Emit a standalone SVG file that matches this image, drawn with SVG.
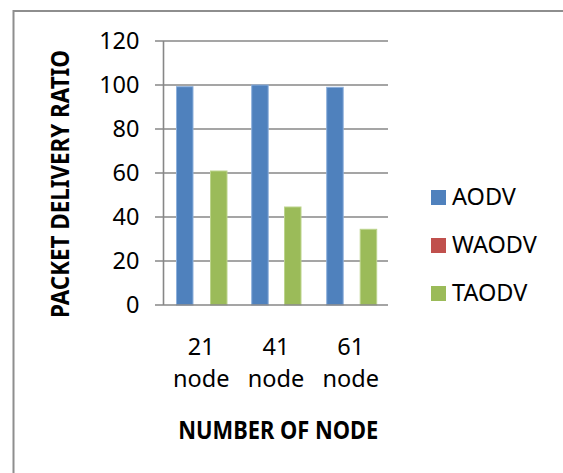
<svg xmlns="http://www.w3.org/2000/svg" width="563" height="473" viewBox="0 0 563 473">
<style>
.grid{stroke:#878787;stroke-width:1.6;fill:none}
.tick{font-family:"Noto Sans","Liberation Sans",sans-serif;font-size:23.5px;fill:#000}
.ttl{font-family:"Noto Sans","Liberation Sans",sans-serif;font-size:25.5px;font-weight:bold;fill:#000}
.b{fill:#4F81BD;stroke:#8DB0DC;stroke-width:1}
.r{fill:#C0504D}
.g{fill:#9BBB59;stroke:#BCD48C;stroke-width:1}
</style>
<rect x="0" y="0" width="563" height="473" fill="#fff"/>
<rect id="frame" x="13.5" y="11" width="600" height="500" fill="#fff" stroke="#8e8e8e" stroke-width="2"/>
<g id="gridlines">
<line class="grid" x1="155" y1="41" x2="388" y2="41"/>
<line class="grid" x1="155" y1="85" x2="388" y2="85"/>
<line class="grid" x1="155" y1="129" x2="388" y2="129"/>
<line class="grid" x1="155" y1="173" x2="388" y2="173"/>
<line class="grid" x1="155" y1="217" x2="388" y2="217"/>
<line class="grid" x1="155" y1="261" x2="388" y2="261"/>
<line class="grid" x1="163.5" y1="41" x2="163.5" y2="305"/>
</g>
<g id="y-labels" class="tick" text-anchor="end">
<text x="139.5" y="49">120</text>
<text x="139.5" y="93">100</text>
<text x="139.5" y="137">80</text>
<text x="139.5" y="181">60</text>
<text x="139.5" y="225">40</text>
<text x="139.5" y="269">20</text>
<text x="139.5" y="313">0</text>
</g>
<g id="bars">
<rect class="b" x="176.5" y="86.7" width="16.5" height="218.3"/>
<rect class="g" x="210.5" y="171" width="16.5" height="134"/>
<rect class="b" x="251.7" y="85" width="16.5" height="220"/>
<rect class="g" x="284.5" y="207" width="16.5" height="98"/>
<rect class="b" x="326.7" y="87.3" width="16.5" height="217.7"/>
<rect class="g" x="360.2" y="229.3" width="16.5" height="75.7"/>
</g>
<line id="x-axis" class="grid" x1="155" y1="305" x2="388" y2="305"/>
<g id="x-labels" class="tick" text-anchor="middle">
<text x="201.3" y="355">21</text>
<text x="201.3" y="387">node</text>
<text x="276" y="355">41</text>
<text x="276" y="387">node</text>
<text x="350.7" y="355">61</text>
<text x="350.7" y="387">node</text>
</g>
<text id="x-title" class="ttl" x="278.3" y="438.5" text-anchor="middle" textLength="200" lengthAdjust="spacingAndGlyphs">NUMBER OF NODE</text>
<text id="y-title" class="ttl" transform="translate(68.5,184) rotate(-90)" x="0" y="0" text-anchor="middle" textLength="268" lengthAdjust="spacingAndGlyphs">PACKET DELIVERY RATIO</text>
<g id="legend">
<g id="legend-aodv"><rect x="431" y="190" width="15" height="15" fill="#4F81BD"/><text class="tick" x="452" y="205">AODV</text></g>
<g id="legend-waodv"><rect class="r" x="431" y="238" width="15" height="15"/><text class="tick" x="452" y="253">WAODV</text></g>
<g id="legend-taodv"><rect x="431" y="286" width="15" height="15" fill="#9BBB59"/><text class="tick" x="452" y="301">TAODV</text></g>
</g>
</svg>
